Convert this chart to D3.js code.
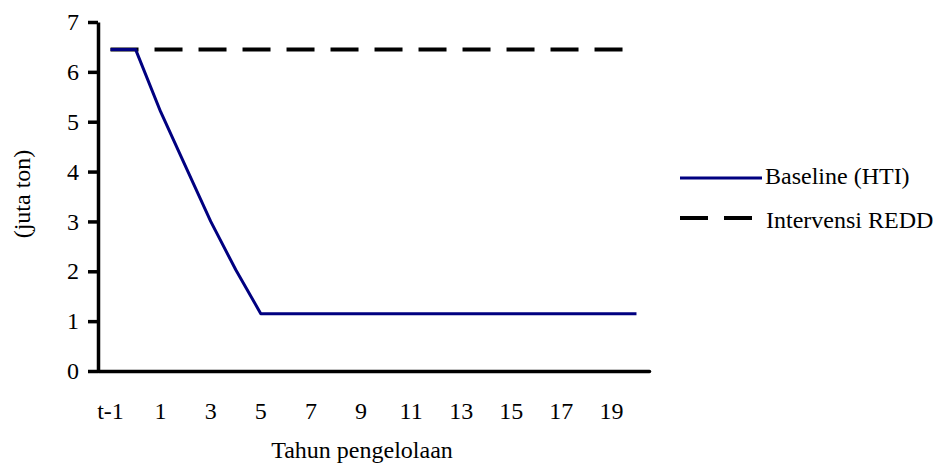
<!DOCTYPE html>
<html>
<head>
<meta charset="utf-8">
<script src="https://cdn.jsdelivr.net/npm/d3@7"></script>
<style>
  html, body { margin: 0; padding: 0; background: #fff; }
  svg { display: block; }
  text { font-family: "Liberation Serif", "Times New Roman", serif; fill: #000; }
</style>
</head>
<body>
<svg id="chart" width="935" height="464"></svg>
<script>
// Management years on the horizontal axis
const categories = ["t-1", "0", "1", "2", "3", "4", "5", "6", "7", "8", "9", "10",
  "11", "12", "13", "14", "15", "16", "17", "18", "19", "20"];
// Emissions per year (million tonnes)
const baselineHTI = [6.45, 6.45, 5.2, 4.1, 3.0, 2.03, 1.15, 1.15, 1.15, 1.15, 1.15, 1.15,
  1.15, 1.15, 1.15, 1.15, 1.15, 1.15, 1.15, 1.15, 1.15, 1.15];
const intervensiREDD = [6.45, 6.45, 6.45, 6.45, 6.45, 6.45, 6.45, 6.45, 6.45, 6.45, 6.45, 6.45,
  6.45, 6.45, 6.45, 6.45, 6.45, 6.45, 6.45, 6.45, 6.45, 6.45];
const xTickLabels = ["t-1", "1", "3", "5", "7", "9", "11", "13", "15", "17", "19"];
const yTicks = [0, 1, 2, 3, 4, 5, 6, 7];
const seriesNames = ["Baseline (HTI)", "Intervensi REDD"];

const svg = d3.select("#chart");
const plot = { left: 98, right: 649, top: 22, bottom: 371 };
const fontSize = 24;
const serif = "'Liberation Serif', 'Times New Roman', serif";

const x = d3.scaleBand().domain(categories).range([plot.left, plot.right]).padding(0);
const y = d3.scaleLinear().domain([0, 7]).range([plot.bottom, plot.top]);
const cx = c => x(c) + x.bandwidth() / 2;

// Series lines
const line = d3.line().x((d, i) => cx(categories[i])).y(d => y(d));

svg.append("path")
  .datum(intervensiREDD)
  .attr("d", line)
  .attr("fill", "none")
  .attr("stroke", "#000")
  .attr("stroke-width", 4)
  .attr("stroke-dasharray", "28,16");

svg.append("path")
  .datum(baselineHTI)
  .attr("d", line)
  .attr("fill", "none")
  .attr("stroke", "#000080")
  .attr("stroke-width", 3)
  .attr("stroke-linejoin", "round");

// Y axis
const yAxis = svg.append("g")
  .attr("transform", `translate(${plot.left},0)`)
  .call(d3.axisLeft(y).tickValues(yTicks).tickFormat(d3.format("d"))
    .tickSize(10).tickSizeOuter(0).tickPadding(9));
yAxis.attr("font-family", null).attr("font-size", null);
yAxis.select(".domain").attr("stroke", "#000").attr("stroke-width", 3.5);
yAxis.selectAll(".tick line").attr("stroke", "#000").attr("stroke-width", 3.5);
yAxis.selectAll(".tick text")
  .style("font-family", serif).style("font-size", fontSize + "px").attr("fill", "#000");

// X axis (no tick marks, labels on alternate years)
const xAxis = svg.append("g")
  .attr("transform", `translate(0,${plot.bottom})`)
  .call(d3.axisBottom(x).tickSize(0).tickSizeOuter(0).tickPadding(31)
    .tickValues(xTickLabels));
xAxis.attr("font-family", null).attr("font-size", null);
xAxis.select(".domain").attr("stroke", "#000").attr("stroke-width", 3.5).attr("stroke-linecap", "round");
xAxis.selectAll(".tick text")
  .style("font-family", serif).style("font-size", fontSize + "px").attr("fill", "#000");

// Axis titles
svg.append("text")
  .attr("x", 362).attr("y", 458)
  .attr("text-anchor", "middle")
  .style("font-size", fontSize + "px")
  .text("Tahun pengelolaan");

svg.append("text")
  .attr("transform", "translate(30,194) rotate(-90)")
  .attr("text-anchor", "middle")
  .style("font-size", fontSize + "px")
  .text("(juta ton)");

// Legend
const legend = svg.append("g");
legend.append("line")
  .attr("x1", 680).attr("x2", 762).attr("y1", 178).attr("y2", 178)
  .attr("stroke", "#000080").attr("stroke-width", 3);
legend.append("text")
  .attr("x", 765).attr("y", 184)
  .style("font-size", fontSize + "px")
  .text(seriesNames[0]);
legend.append("line")
  .attr("x1", 680).attr("x2", 752).attr("y1", 218).attr("y2", 218)
  .attr("stroke", "#000").attr("stroke-width", 4).attr("stroke-dasharray", "28,16");
legend.append("text")
  .attr("x", 766).attr("y", 228)
  .style("font-size", fontSize + "px")
  .text(seriesNames[1]);
</script>
</body>
</html>
